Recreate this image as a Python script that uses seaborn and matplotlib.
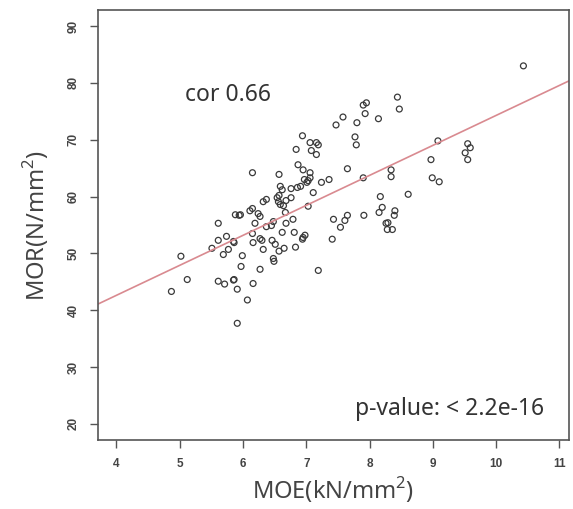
import matplotlib
matplotlib.use("Agg")
import matplotlib.pyplot as plt
import seaborn as sns
import pandas as pd

# MOE (kN/mm2) and MOR (N/mm2)
moe = [10.43, 8.44, 8.47, 7.90, 7.95, 7.93, 8.14, 7.58, 7.47, 7.80,
       7.77, 7.79, 6.94, 6.84, 7.06, 7.16, 7.19, 7.08, 7.16, 7.65,
       6.87, 6.95, 7.06, 7.06, 6.97, 7.01, 7.03, 7.36, 7.24, 6.57,
       6.15, 6.59, 6.62, 6.76, 6.86, 6.91, 7.11, 6.57, 6.32, 6.37,
       6.54, 6.56, 6.59, 6.76, 6.68, 6.64, 7.03, 6.15, 6.11, 5.96,
       6.24, 6.27, 6.19, 6.67, 6.48, 6.45, 6.37, 6.68, 6.79, 6.62,
       6.81, 6.98, 6.94, 6.95, 6.83, 6.65, 6.57, 6.46, 6.51, 6.32,
       6.48, 6.49, 6.27, 6.30, 6.15, 6.16, 6.27, 7.19, 7.90, 8.34,
       8.34, 9.08, 8.97, 8.99, 9.10, 9.55, 9.59, 9.51, 9.55, 8.17,
       8.61, 8.20, 8.15, 8.40, 8.39, 8.26, 8.29, 8.28, 8.36, 7.91,
       7.65, 7.61, 7.54, 7.43, 7.41, 5.02, 5.12, 4.87, 5.51, 5.61,
       5.74, 5.85, 5.86, 5.69, 5.77, 5.99, 5.97, 5.61, 5.71, 5.85,
       5.86, 5.91, 6.07, 5.91, 6.16, 5.61, 5.88, 5.94]
mor = [83.0, 77.5, 75.4, 76.1, 76.5, 74.6, 73.7, 74.0, 72.6, 73.0,
       70.5, 69.1, 70.7, 68.3, 69.5, 69.5, 69.1, 68.1, 67.4, 64.9,
       65.6, 64.7, 64.2, 63.3, 63.0, 62.5, 62.8, 63.0, 62.5, 63.9,
       64.2, 61.8, 61.2, 61.4, 61.6, 61.8, 60.7, 60.2, 59.1, 59.5,
       59.8, 59.1, 58.6, 59.8, 59.3, 58.4, 58.3, 57.9, 57.5, 56.8,
       57.0, 56.5, 55.3, 57.2, 55.6, 54.9, 54.7, 55.3, 56.0, 53.7,
       53.7, 53.2, 52.5, 52.8, 51.1, 50.9, 50.4, 52.3, 51.6, 50.7,
       49.1, 48.6, 52.6, 52.3, 53.5, 51.9, 47.2, 47.0, 63.3, 64.7,
       63.5, 69.8, 66.5, 63.3, 62.6, 69.3, 68.6, 67.7, 66.5, 60.0,
       60.4, 58.1, 57.2, 57.5, 56.7, 55.3, 55.4, 54.2, 54.2, 56.7,
       56.7, 55.8, 54.6, 56.0, 52.5, 49.5, 45.4, 43.3, 50.9, 52.3,
       53.0, 52.1, 51.9, 49.8, 50.7, 49.6, 47.7, 45.1, 44.6, 45.3,
       45.4, 43.7, 41.8, 37.7, 44.7, 55.3, 56.8, 56.7]

x_ticks = [4, 5, 6, 7, 8, 9, 10, 11]
y_ticks = [20, 30, 40, 50, 60, 70, 80, 90]

df = pd.DataFrame({"MOE": moe, "MOR": mor})

sns.set_style("white")
plt.rcParams['font.family'] = ['Liberation Sans', 'DejaVu Sans']
plt.rcParams['mathtext.fontset'] = 'custom'
plt.rcParams['mathtext.rm'] = 'Noto Sans'

fig = plt.figure(figsize=(5.73, 5.09), dpi=100)
ax = fig.add_axes([0.171, 0.136, 0.822, 0.844])
ax.set_xlim(3.71, 11.15)
ax.set_ylim(17.2, 92.8)

sns.scatterplot(data=df, x="MOE", y="MOR", ax=ax, s=18, marker="o",
                facecolors="none", edgecolor="#3a3a3a", linewidth=0.9)
sns.regplot(data=df, x="MOE", y="MOR", ax=ax, scatter=False, ci=None,
            truncate=False, line_kws={"color": "#d98a90", "linewidth": 1.2})
ax.set_xlim(3.71, 11.15)
ax.set_ylim(17.2, 92.8)

ax.set_xticks(x_ticks)
ax.set_yticks(y_ticks)
ax.tick_params(axis="both", direction="out", length=6, width=1,
               color="#555555", labelsize=8.5, labelcolor="#444444",
               bottom=True, left=True, pad=7)
for lab in ax.get_xticklabels() + ax.get_yticklabels():
    lab.set_fontweight("bold")
for lab in ax.get_yticklabels():
    lab.set_rotation(90)
    lab.set_va("center")
for sp in ax.spines.values():
    sp.set_color("#555555")
    sp.set_linewidth(1.2)

ax.set_xlabel("MOE(kN/mm$^{2}$)", fontsize=17, color="#444444",
              family=["Noto Sans", "DejaVu Sans"], labelpad=4)
ax.set_ylabel("MOR(N/mm$^{2}$)", fontsize=17, color="#444444",
              family=["Noto Sans", "DejaVu Sans"], labelpad=12)

ax.text(5.77, 77.9, "cor 0.66", fontsize=16.5, color="#333333",
        ha="center", va="center", family=["Noto Sans", "DejaVu Sans"])
ax.text(9.26, 22.6, "p-value: < 2.2e-16", fontsize=16.5, color="#333333",
        ha="center", va="center", family=["Noto Sans", "DejaVu Sans"])

fig.savefig("out.png", dpi=100)
